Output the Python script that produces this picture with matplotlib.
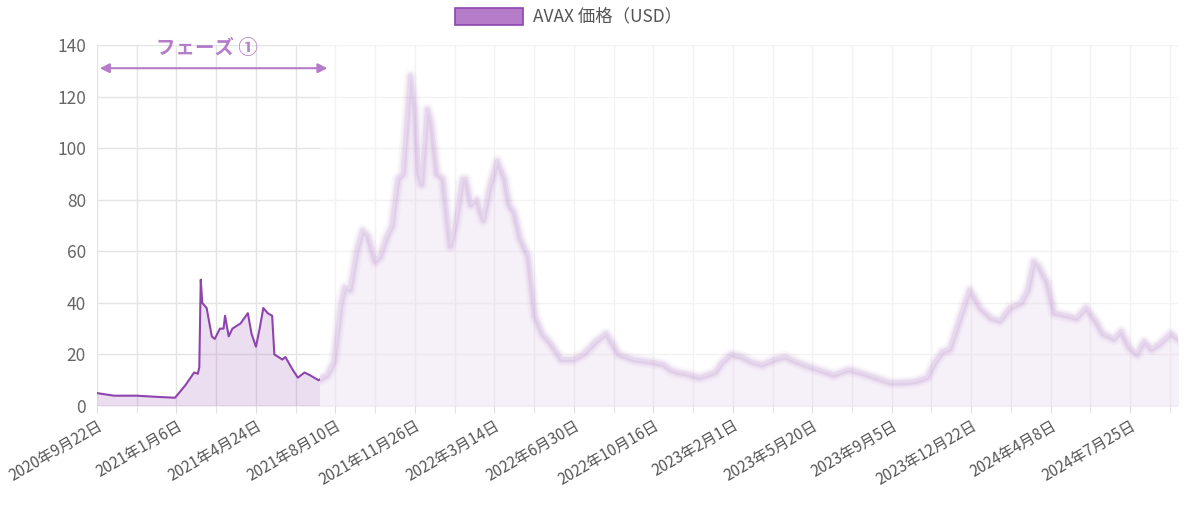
import matplotlib
matplotlib.use("Agg")
import matplotlib.pyplot as plt
import matplotlib.transforms as mtrans
import numpy as np
import pandas as pd

plt.rcParams['font.family'] = ['Noto Sans CJK JP', 'DejaVu Sans']

dates = ["2020-09-22","2020-10-15","2020-11-15","2020-12-15","2021-01-06","2021-01-20","2021-02-01","2021-02-06",
"2021-02-08","2021-02-10","2021-02-12","2021-02-18","2021-02-25","2021-03-01","2021-03-08","2021-03-13","2021-03-15",
"2021-03-20","2021-03-25","2021-04-05","2021-04-15","2021-04-20","2021-04-26","2021-05-01","2021-05-06","2021-05-12",
"2021-05-18","2021-05-21","2021-06-01","2021-06-05","2021-06-15","2021-06-22","2021-07-01","2021-07-08","2021-07-20",
"2021-08-01","2021-08-10","2021-08-20","2021-08-25","2021-09-01","2021-09-10","2021-09-18","2021-09-25","2021-10-05",
"2021-10-12","2021-10-20","2021-10-28","2021-11-05","2021-11-12","2021-11-22","2021-11-28","2021-12-03","2021-12-07",
"2021-12-15","2021-12-20","2021-12-28","2022-01-05","2022-01-15","2022-01-22","2022-02-01","2022-02-05","2022-02-12",
"2022-02-20","2022-03-01","2022-03-10","2022-03-20","2022-03-30","2022-04-05","2022-04-12","2022-04-20","2022-05-01",
"2022-05-10","2022-05-20","2022-06-01","2022-06-15","2022-07-01","2022-07-15","2022-08-01","2022-08-15","2022-09-01",
"2022-09-20","2022-10-15","2022-11-01","2022-11-10","2022-11-20","2022-12-01","2022-12-20","2023-01-10","2023-01-20",
"2023-02-01","2023-02-15","2023-03-01","2023-03-15","2023-04-01","2023-04-15","2023-05-01","2023-05-20","2023-06-10",
"2023-06-20","2023-07-10","2023-07-25","2023-08-15","2023-09-05","2023-09-20","2023-10-10","2023-10-25","2023-11-05",
"2023-11-15","2023-11-25","2023-12-10","2023-12-22","2024-01-05","2024-01-20","2024-02-01","2024-02-15","2024-03-01",
"2024-03-10","2024-03-18","2024-03-25","2024-04-05","2024-04-15","2024-05-01","2024-05-15","2024-05-28","2024-06-10",
"2024-06-20","2024-07-05","2024-07-15","2024-07-25","2024-08-05","2024-08-15","2024-08-25","2024-09-05","2024-09-20",
"2024-09-30"]
prices = [5,4,4,3.5,3.2,8,13,12.5,15,49,40,38,27,26,30,30,35,27,30,32,36,28,23,30,38,36,35,20,18,19,14,11,13,12,10,
12,17,40,46,45,60,68,66,56,58,65,70,88,90,128,115,90,86,115,110,90,88,62,70,88,88,78,80,72,85,95,88,78,75,65,58,
35,28,24,18,18,20,25,28,20,18,17,16,14,13,12.5,11,13,17,20,19,17,16,18,19,17,15,13,12,14,13,11,9,9,9.5,11,17,21,22,
35,45,38,34,33,38,40,45,56,54,48,36,35,34,38,33,28,26,29,23,20,25,22,24,28,26]
tick_labels = ["2020年9月22日","2021年1月6日","2021年4月24日","2021年8月10日","2021年11月26日","2022年3月14日",
"2022年6月30日","2022年10月16日","2023年2月1日","2023年5月20日","2023年9月5日","2023年12月22日","2024年4月8日","2024年7月25日"]

x = pd.to_datetime(dates)
start = pd.Timestamp("2020-09-22")
end = pd.Timestamp("2024-09-30")
cut = pd.Timestamp("2021-07-22")
line_c = "#8e44ad"
fill_c = "#b57cc9"

fig = plt.figure(figsize=(12, 5.08), dpi=100)
ax = fig.add_axes([97/1200, 1-406/508, (1178-97)/1200, (406-45)/508])
ax.set_xlim(start, end)
ax.set_ylim(0, 140)

minor = [start + pd.Timedelta(days=54*i) for i in range(28)]
ax.set_xticks(minor, minor=True)
ax.set_xticks([start + pd.Timedelta(days=108*i) for i in range(14)])
ax.set_xticklabels(tick_labels, rotation=30, ha='right', rotation_mode='anchor', fontsize=11, color='#555')
off = mtrans.ScaledTranslation(10/100, 0, fig.dpi_scale_trans)
for lab in ax.get_xticklabels():
    lab.set_transform(lab.get_transform() + off)
for m in minor:
    ax.axvline(m, color='#e4e4e4', lw=1, zorder=0)
ax.set_yticks(range(0, 141, 20))
ax.tick_params(axis='y', labelsize=12.5, colors='#666', length=0, pad=8)
ax.tick_params(axis='x', which='both', length=5, color='#ddd', pad=3)
ax.grid(axis='y', color='#e4e4e4', lw=1, zorder=0)
for s in ax.spines.values():
    s.set_visible(False)
ax.axhline(0, color='#ccc', lw=1, zorder=1)

ax.fill_between(x, prices, 0, color=fill_c, alpha=0.25, lw=0, zorder=2)
clip1 = ax.axvspan(start, cut, alpha=0)
l1, = ax.plot(x, prices, color=line_c, lw=1.5, zorder=4)
l1.set_clip_path(clip1)
ax.axvspan(cut, end, color='white', alpha=0.55, lw=0, zorder=3)
for w, a in [(9, 0.04), (6, 0.07), (3.5, 0.1)]:
    ln, = ax.plot(x, prices, color=line_c, lw=w, alpha=a, zorder=4, solid_capstyle='round')
    r = ax.axvspan(cut, end, alpha=0)
    ln.set_clip_path(r)

ax.annotate("", xy=(pd.Timestamp("2021-08-05"), 131), xytext=(start, 131),
            arrowprops=dict(arrowstyle='<|-|>', color='#b57cc9', lw=1.5, mutation_scale=14), annotation_clip=False)
ax.text(pd.Timestamp("2021-02-18"), 138.5, "フェーズ ①", color='#b57cc9', fontsize=14, fontweight='bold',
        ha='center', va='center')

fig.patches.append(plt.Rectangle((455/1200, 1-25/508), 68/1200, 17/508, transform=fig.transFigure,
                                 facecolor=fill_c, edgecolor=line_c, lw=1.2))
fig.text(533/1200, 1-16/508, "AVAX 価格（USD）", fontsize=12.5, color='#555', va='center')

fig.savefig("out.png", dpi=100)
